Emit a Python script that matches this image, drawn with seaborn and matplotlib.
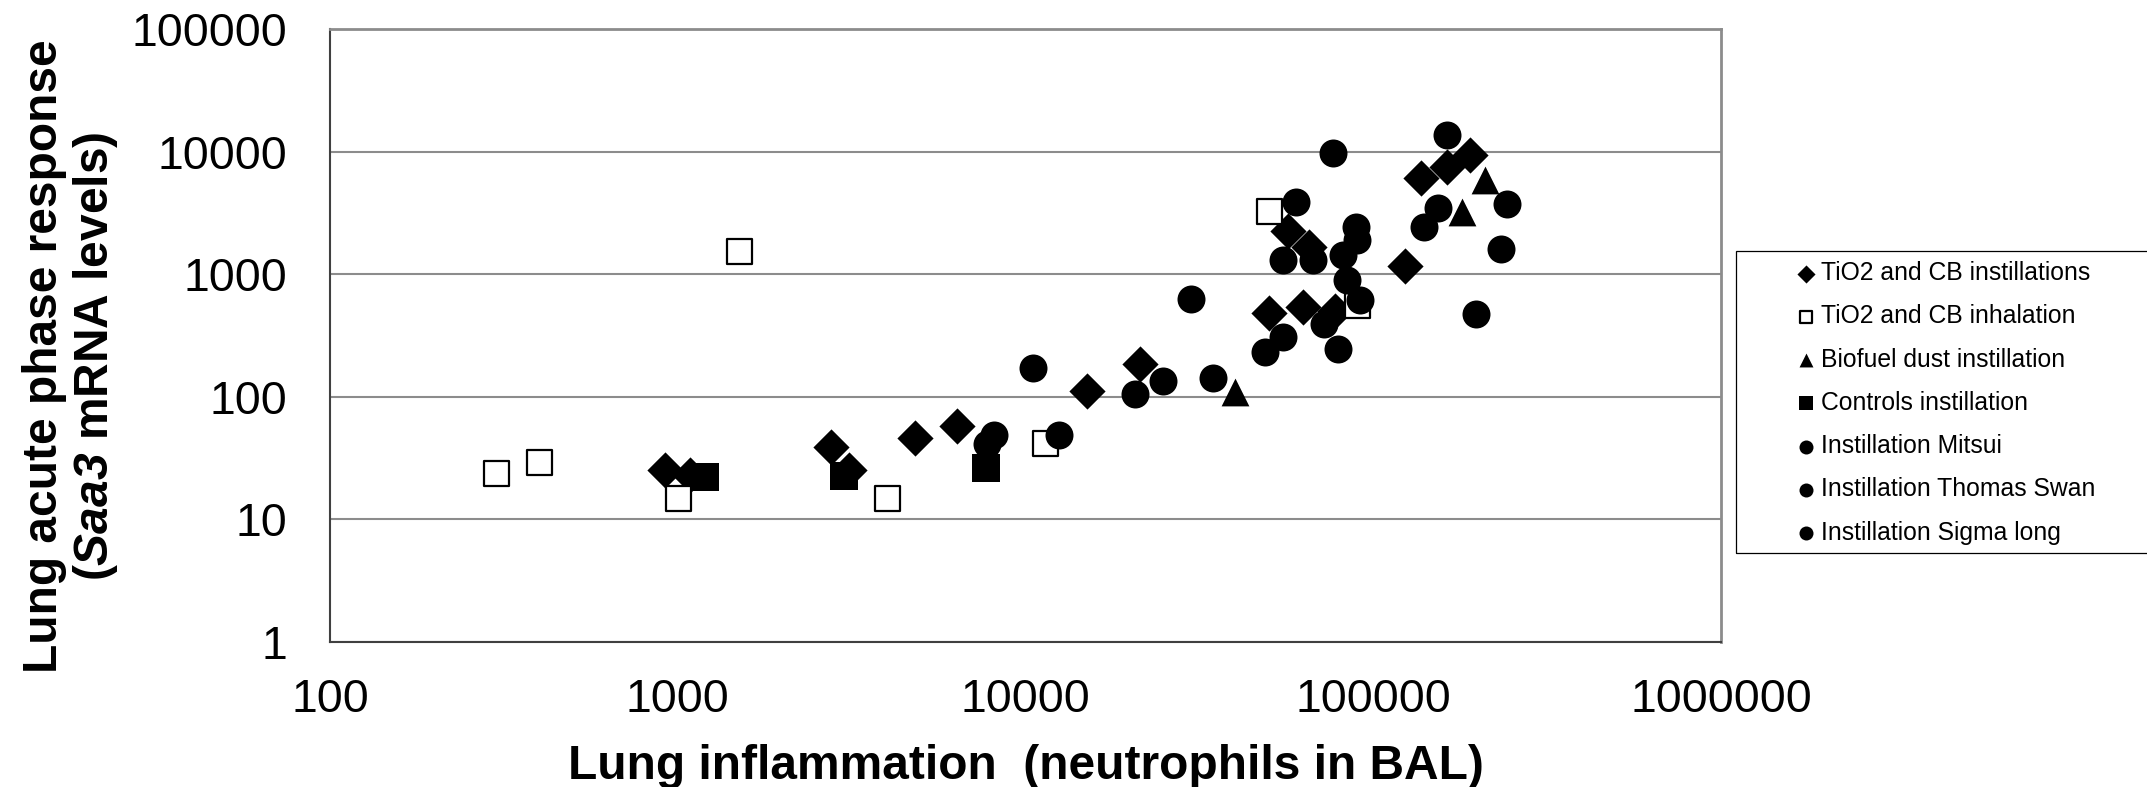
import matplotlib
matplotlib.use("Agg")
import matplotlib.pyplot as plt
import seaborn as sns
import pandas as pd
from matplotlib.patches import Rectangle

# ---------------- data ----------------
tio2_inst_x = [920, 1085, 2750, 3100, 4800, 6350, 15000, 21300, 50000, 57000,
               63000, 65500, 77500, 123000, 137000, 163000, 190000]
tio2_inst_y = [25, 23, 39, 25, 46, 58, 112, 186, 480, 2230,
               535, 1650, 500, 1160, 6100, 7500, 9400]

tio2_inh_x = [300, 400, 1000, 1500, 4000, 11400, 50000, 90000]
tio2_inh_y = [24, 29, 15, 1550, 15, 42, 3250, 555]

biofuel_x = [40000, 180000, 209000]
biofuel_y = [110, 3200, 5900]

controls_x = [1200, 3000, 7700]
controls_y = [22, 22.5, 26]

mitsui_x = [7730, 20600, 48800, 55000, 72000, 84000, 140000, 163000, 233000]
mitsui_y = [41, 105, 230, 1310, 395, 890, 2400, 13700, 1600]

swan_x = [8100, 24900, 55000, 60000, 79000, 89000, 154000, 198000, 76400]
swan_y = [49, 135, 305, 3850, 245, 2400, 3450, 470, 9700]

sigma_x = [10500, 12500, 30000, 34700, 67000, 82000, 90000, 91300, 242000]
sigma_y = [172, 49, 630, 142, 1310, 1440, 1880, 615, 3700]

series_names = ["TiO2 and CB instillations", "TiO2 and CB inhalation",
                "Biofuel dust instillation", "Controls instillation",
                "Instillation Mitsui", "Instillation Thomas Swan",
                "Instillation Sigma long"]

x_ticks = [100, 1000, 10000, 100000, 1000000]
x_tick_labels = ["100", "1000", "10000", "100000", "1000000"]
y_ticks = [1, 10, 100, 1000, 10000, 100000]
y_tick_labels = ["1", "10", "100", "1000", "10000", "100000"]

x_title = "Lung inflammation  (neutrophils in BAL)"
y_title = "Lung acute phase response\n($\\mathbfit{Saa3}$ mRNA levels)"

# ---------------- styling ----------------
sns.set_style("white")
plt.rcParams["font.family"] = ["Liberation Sans", "DejaVu Sans"]
plt.rcParams["text.color"] = "black"
plt.rcParams["axes.labelcolor"] = "black"
plt.rcParams["xtick.color"] = "black"
plt.rcParams["ytick.color"] = "black"
plt.rcParams["mathtext.fontset"] = "custom"
plt.rcParams["mathtext.rm"] = "Liberation Sans"
plt.rcParams["mathtext.bf"] = "Liberation Sans:bold"
plt.rcParams["mathtext.it"] = "Liberation Sans:italic"
plt.rcParams["mathtext.bfit"] = "Liberation Sans:italic:bold"

xs = [tio2_inst_x, tio2_inh_x, biofuel_x, controls_x, mitsui_x, swan_x, sigma_x]
ys = [tio2_inst_y, tio2_inh_y, biofuel_y, controls_y, mitsui_y, swan_y, sigma_y]
styles = [
    dict(marker="D", s=340, color="black", edgecolor="black", linewidth=0),
    dict(marker="s", s=324, color="white", edgecolor="black", linewidth=1.6),
    dict(marker="^", s=400, color="black", edgecolor="black", linewidth=0),
    dict(marker="s", s=378, color="black", edgecolor="black", linewidth=0),
    dict(marker="o", s=406, color="black", edgecolor="black", linewidth=0),
    dict(marker="o", s=406, color="black", edgecolor="black", linewidth=0),
    dict(marker="o", s=406, color="black", edgecolor="black", linewidth=0),
]

W, H = 2147, 787
fig = plt.figure(figsize=(W / 100, H / 100), dpi=100)
ax_l, ax_r, ax_t, ax_b = 330, 1721, 29, 641.7
ax = fig.add_axes([ax_l / W, 1 - ax_b / H, (ax_r - ax_l) / W, (ax_b - ax_t) / H])

for name, xv, yv, st in zip(series_names, xs, ys, styles):
    df = pd.DataFrame({"x": xv, "y": yv})
    sns.scatterplot(data=df, x="x", y="y", ax=ax, label=name, zorder=3, **st)

ax.set_xscale("log")
ax.set_yscale("log")
ax.set_xlim(100, 1000000)
ax.set_ylim(1, 100000)
ax.set_xticks(x_ticks)
ax.set_xticklabels(x_tick_labels)
ax.set_yticks(y_ticks)
ax.set_yticklabels(y_tick_labels)
ax.minorticks_off()
ax.tick_params(axis="x", length=0, labelsize=33.5, pad=26, colors="black")
ax.tick_params(axis="y", length=0, labelsize=33.5, pad=31, colors="black")

ax.yaxis.grid(True, color="#8c8c8c", linewidth=1.5)
ax.xaxis.grid(False)
ax.set_axisbelow(True)
for sp in ["top", "right"]:
    ax.spines[sp].set_color("#8c8c8c")
    ax.spines[sp].set_linewidth(2)
for sp in ["left", "bottom"]:
    ax.spines[sp].set_color("#404040")
    ax.spines[sp].set_linewidth(1.5)

ax.set_xlabel(x_title, fontsize=34.5, fontweight="bold", color="black")
ax.xaxis.set_label_coords(0.5, (ax_b - 744) / (ax_b - ax_t))
ax.set_ylabel(y_title, fontsize=34.5, fontweight="bold", linespacing=1.1, color="black")
ax.yaxis.set_label_coords((120 - ax_l) / (ax_r - ax_l), (ax_b - 356) / (ax_b - ax_t))

# legend (frame drawn separately so that it runs off the right edge like the reference)
leg = ax.legend(loc="upper left", bbox_to_anchor=(1798.5 / W, 1 - 261 / H),
                bbox_transform=fig.transFigure, frameon=False, borderpad=0,
                borderaxespad=0, handlelength=0.6, handletextpad=0.3,
                labelspacing=0.78, fontsize=17.8, markerscale=0.5, scatterpoints=1,
                labelcolor="black")
fig.patches.append(Rectangle((1736 / W, 1 - 553 / H), 0.3, (553 - 251) / H,
                             transform=fig.transFigure, fill=False,
                             edgecolor="black", linewidth=0.9, figure=fig))

fig.savefig("out.png", dpi=100)
